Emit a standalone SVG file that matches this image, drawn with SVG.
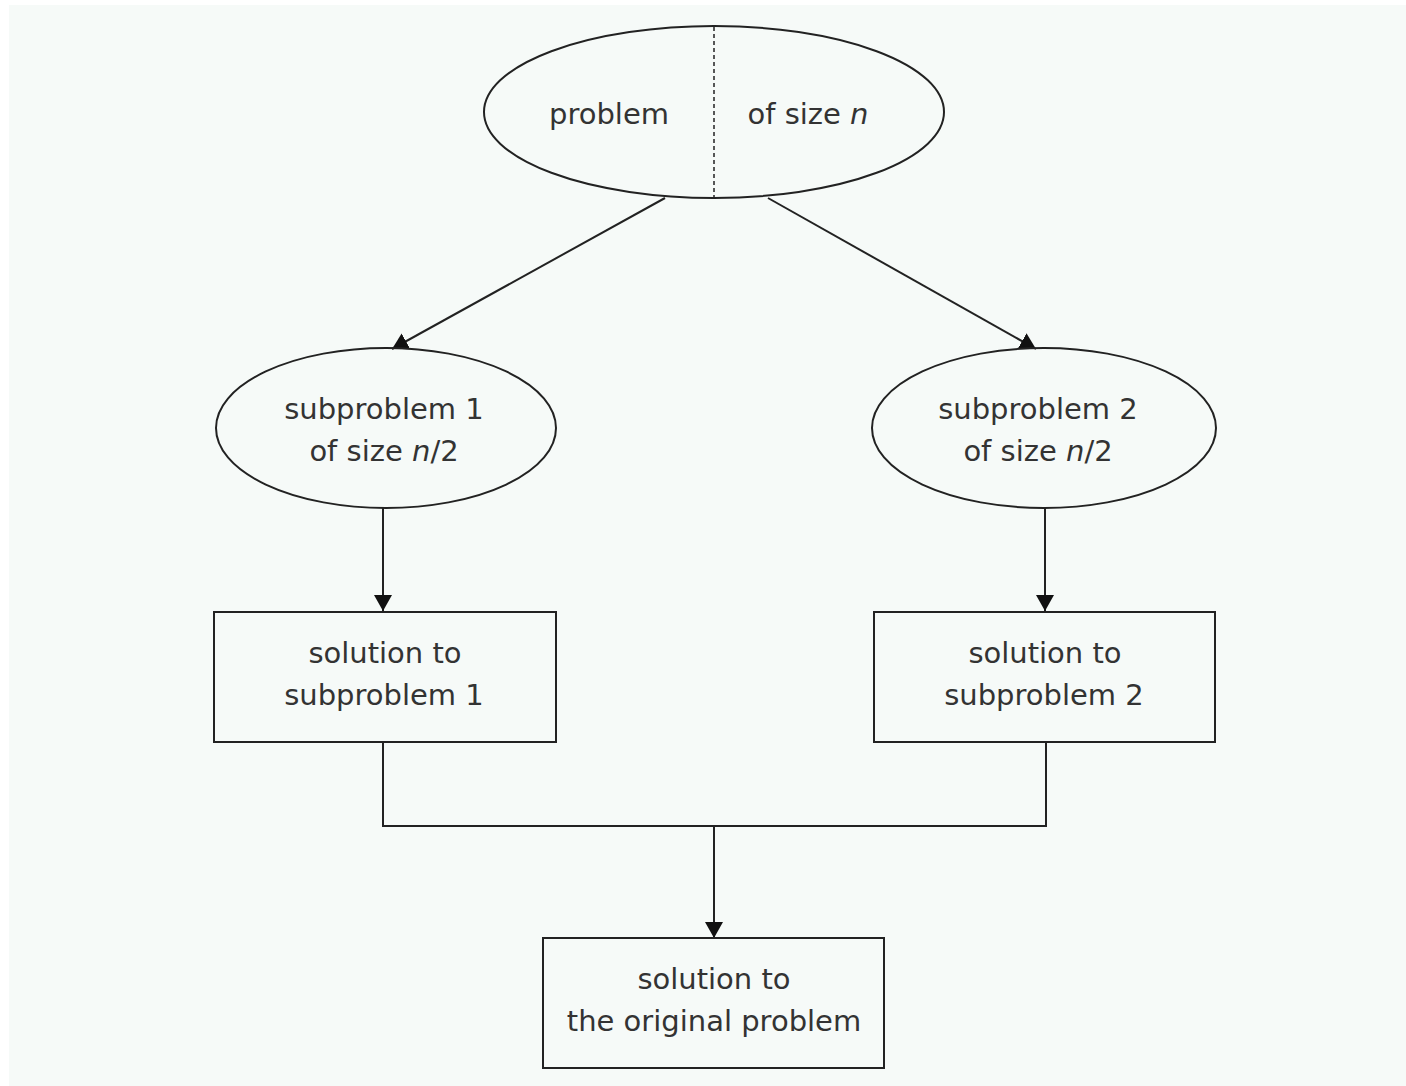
<svg xmlns="http://www.w3.org/2000/svg" width="1406" height="1086" viewBox="0 0 1406 1086">
<style>
.shape{fill:none;stroke:#222;stroke-width:2}
.conn{fill:none;stroke:#222;stroke-width:2}
.t{font-family:"DejaVu Sans","Liberation Sans",sans-serif;font-size:29px;fill:#333;text-anchor:middle}
.i{font-style:italic}
</style>
<defs>
<marker id="arr" viewBox="0 0 16 18" refX="16" refY="9" markerWidth="16" markerHeight="18" markerUnits="userSpaceOnUse" orient="auto">
<path d="M0,0 L16,9 L0,18 Z" fill="#111"/>
</marker>
</defs>
<rect x="0" y="0" width="1406" height="1086" fill="#ffffff"/>
<rect x="9" y="5" width="1397" height="1081" fill="#f6faf8"/>
<g id="connectors">
<line class="conn" x1="665" y1="198" x2="392" y2="349" marker-end="url(#arr)"/>
<line class="conn" x1="768" y1="198" x2="1036" y2="349" marker-end="url(#arr)"/>
<line class="conn" x1="383" y1="508" x2="383" y2="611" marker-end="url(#arr)"/>
<line class="conn" x1="1045" y1="508" x2="1045" y2="611" marker-end="url(#arr)"/>
<polyline class="conn" points="383,742 383,826 1046,826 1046,742"/>
<line class="conn" x1="714" y1="826" x2="714" y2="938" marker-end="url(#arr)"/>
</g>
<g id="problem">
<ellipse class="shape" cx="714" cy="112" rx="230" ry="86"/>
<line x1="714" y1="27" x2="714" y2="197" stroke="#222" stroke-width="1.5" stroke-dasharray="4,3"/>
<text class="t" x="609" y="124">problem</text>
<text class="t" x="808" y="124">of size <tspan class="i">n</tspan></text>
</g>
<g id="sub1">
<ellipse class="shape" cx="386" cy="428" rx="170" ry="80"/>
<text class="t" x="384" y="419">subproblem 1</text>
<text class="t" x="384" y="461">of size <tspan class="i">n</tspan>/2</text>
</g>
<g id="sub2">
<ellipse class="shape" cx="1044" cy="428" rx="172" ry="80"/>
<text class="t" x="1038" y="419">subproblem 2</text>
<text class="t" x="1038" y="461">of size <tspan class="i">n</tspan>/2</text>
</g>
<g id="sol1">
<rect class="shape" x="214" y="612" width="342" height="130"/>
<text class="t" x="385" y="663">solution to</text>
<text class="t" x="384" y="705">subproblem 1</text>
</g>
<g id="sol2">
<rect class="shape" x="874" y="612" width="341" height="130"/>
<text class="t" x="1045" y="663">solution to</text>
<text class="t" x="1044" y="705">subproblem 2</text>
</g>
<g id="final">
<rect class="shape" x="543" y="938" width="341" height="130"/>
<text class="t" x="714" y="989">solution to</text>
<text class="t" x="714" y="1031">the original problem</text>
</g>
</svg>
